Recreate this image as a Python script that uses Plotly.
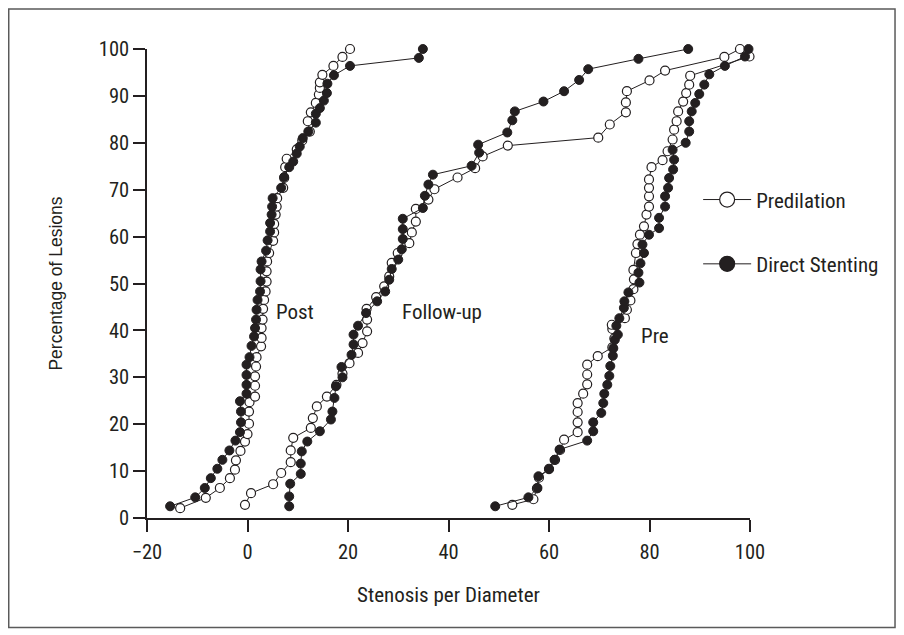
import plotly.graph_objects as go

# ---- data ----
post_pre_x = [-13.4, -8.3, -5.5, -3.5, -2.5, -2.3, -1.4, -0.5, 0.0, 0.3, 0.3, 0.4, 1.5, 1.5, 1.5, 1.7, 1.8, 2.7, 2.8, 2.8,
              3.0, 3.1, 3.3, 3.6, 3.8, 3.8, 3.9, 4.3, 5.1, 5.3, 5.3, 5.6, 5.8, 5.9, 7.1, 7.3, 7.5, 7.8, 9.8, 10.9,
              12.4, 12.0, 12.6, 13.6, 14.2, 14.4, 14.4, 14.9, 17.1, 18.9, 20.4]
post_pre_y = [2.1, 4.3, 6.4, 8.5, 10.3, 12.3, 14.3, 16.3, 17.9, 20.1, 22.7, 24.7, 25.9, 28.2, 30.2, 32.3, 34.3, 36.6, 38.4, 40.5,
              42.3, 44.6, 46.5, 48.3, 50.4, 52.6, 54.7, 56.5, 59.1, 60.9, 62.7, 64.7, 66.4, 68.2, 70.4, 72.5, 74.8, 76.6, 78.6, 80.5,
              82.4, 84.6, 86.5, 88.5, 90.3, 91.7, 92.9, 94.5, 96.4, 98.3, 100.0]

post_ds_x = [-15.4, -10.4, -8.5, -7.3, -6.0, -5.0, -3.6, -2.4, -1.5, -1.3, -1.3, -1.5, -0.2, -0.2, -0.2, -0.2, 0.4, 0.8, 1.3, 1.5,
             1.7, 1.8, 2.0, 2.5, 2.6, 2.6, 2.8, 3.7, 4.0, 4.5, 4.5, 4.8, 4.9, 5.0, 6.7, 7.3, 8.3, 9.1, 9.8, 10.4,
             11.0, 12.1, 13.6, 13.6, 14.4, 15.2, 15.8, 15.9, 17.2, 20.4, 34.1, 34.9]
post_ds_y = [2.5, 4.4, 6.4, 8.5, 10.5, 12.4, 14.4, 16.5, 18.3, 20.4, 22.7, 24.9, 26.5, 28.4, 30.5, 32.7, 34.3, 36.7, 38.7, 40.5,
             42.3, 44.4, 46.5, 48.3, 50.5, 53.0, 54.7, 57.0, 59.2, 61.1, 62.9, 64.7, 66.4, 68.2, 70.4, 72.7, 74.8, 76.0, 77.7, 79.2,
             81.0, 82.4, 84.3, 86.2, 87.4, 89.0, 90.6, 92.6, 94.4, 96.4, 98.1, 100.0]

fu_pre_x = [-0.5, 0.7, 5.1, 6.7, 8.6, 8.6, 9.1, 12.6, 13.0, 13.8, 15.8, 17.7, 18.9, 20.3, 22.0, 22.9, 23.8, 23.8, 23.7, 25.6,
            27.2, 28.2, 28.7, 29.9, 32.2, 32.7, 33.5, 33.5, 36.0, 37.2, 41.8, 45.3, 46.8, 51.8, 69.8, 72.1, 75.3, 75.3, 75.5, 80.0,
            83.1, 94.9, 98.0]
fu_pre_y = [2.8, 5.3, 7.2, 9.6, 11.9, 14.4, 17.1, 19.2, 21.3, 23.8, 25.9, 28.4, 30.8, 33.0, 35.2, 37.3, 39.8, 42.3, 44.6, 47.1,
            49.4, 51.5, 54.4, 56.5, 58.6, 60.9, 63.2, 65.9, 67.9, 70.1, 72.6, 74.6, 77.1, 79.4, 81.1, 83.9, 86.5, 88.6, 91.0, 93.3,
            95.4, 98.3, 100.0]

fu_ds_x = [8.3, 8.3, 8.5, 10.6, 10.6, 10.8, 11.9, 14.4, 16.6, 16.9, 17.3, 17.6, 18.9, 18.7, 20.7, 21.1, 21.1, 22.0, 23.6, 25.8,
           27.4, 28.2, 28.7, 30.0, 30.7, 30.9, 30.9, 30.9, 34.9, 35.3, 36.0, 36.9, 44.6, 46.1, 45.9, 51.7, 52.7, 53.2, 58.9, 63.0,
           66.0, 67.8, 77.8, 87.7]
fu_ds_y = [2.5, 4.6, 7.3, 9.4, 11.6, 14.2, 16.3, 18.5, 21.0, 22.7, 25.6, 28.1, 30.0, 32.2, 34.8, 37.0, 39.1, 41.0, 43.7, 46.2,
           48.3, 50.8, 53.1, 55.1, 57.3, 59.5, 61.6, 63.8, 66.1, 68.7, 71.1, 73.2, 75.1, 77.9, 79.6, 82.2, 84.8, 86.7, 88.8, 91.0,
           93.4, 95.7, 97.9, 100.0]

pre_pre_x = [52.7, 56.9, 57.6, 58.0, 60.0, 61.2, 62.2, 63.0, 65.7, 65.7, 65.7, 65.7, 66.8, 67.6, 67.6, 67.6, 69.7, 72.6, 73.0, 72.6,
             72.5, 75.1, 75.5, 76.2, 76.8, 76.9, 76.8, 77.3, 77.6, 78.1, 78.9, 79.4, 79.9, 79.9, 79.9, 79.9, 80.4, 82.6, 83.6, 84.6,
             84.9, 85.4, 85.7, 86.7, 87.3, 87.9, 88.1, 99.9]
pre_pre_y = [2.8, 4.0, 6.3, 8.6, 10.5, 12.4, 14.5, 16.7, 18.3, 20.4, 22.6, 24.5, 26.5, 28.5, 30.6, 32.7, 34.5, 36.4, 38.3, 40.3,
             41.2, 42.6, 44.4, 46.4, 48.8, 50.9, 52.9, 56.5, 58.4, 60.4, 62.2, 64.7, 66.4, 68.6, 70.4, 72.2, 74.8, 76.3, 78.2, 80.7,
             82.8, 84.6, 86.7, 88.8, 90.6, 92.4, 94.3, 98.4]

pre_ds_x = [49.3, 55.9, 57.7, 57.9, 60.0, 61.1, 62.1, 67.6, 68.8, 68.8, 70.4, 70.8, 71.0, 71.6, 72.0, 72.2, 72.7, 72.8, 73.1, 73.7,
            73.4, 74.0, 74.9, 75.0, 75.8, 78.0, 77.8, 78.2, 78.9, 78.6, 79.9, 81.9, 81.9, 83.1, 83.1, 83.7, 83.9, 84.7, 84.9, 84.6,
            87.2, 87.9, 87.9, 88.4, 89.1, 89.9, 90.9, 91.9, 95.0, 99.0, 99.7]
pre_ds_y = [2.5, 4.4, 6.4, 8.9, 10.4, 12.4, 14.6, 16.5, 18.5, 20.4, 22.4, 24.5, 26.5, 28.4, 30.3, 32.4, 34.6, 36.2, 38.0, 39.1,
            41.0, 42.6, 44.8, 46.2, 48.1, 50.2, 52.3, 54.3, 56.5, 58.3, 60.4, 61.8, 64.0, 66.4, 68.6, 70.4, 72.5, 74.3, 76.4, 78.5,
            80.0, 82.4, 84.6, 86.7, 88.5, 90.4, 92.4, 94.6, 96.4, 98.4, 100.0]

x_ticks = [-20, 0, 20, 40, 60, 80, 100]
x_tick_text = ["\u221220", "0", "20", "40", "60", "80", "100"]
y_ticks = [0, 10, 20, 30, 40, 50, 60, 70, 80, 90, 100]

group_labels = ["Post", "Follow-up", "Pre"]
group_label_x = [9.45, 38.7, 81.1]
group_label_y = [44.0, 44.0, 38.8]

legend_names = ["Predilation", "Direct Stenting"]

NARROW = "Roboto Condensed, Liberation Sans Narrow, Arial Narrow, sans-serif"
INK = "#231f20"

open_marker = dict(symbol="circle", size=9, color="white", line=dict(color=INK, width=1.2))
fill_marker = dict(symbol="circle", size=9, color=INK, line=dict(color=INK, width=1))
line_style = dict(color=INK, width=1)

fig = go.Figure()
series = [
    (post_pre_x, post_pre_y, "open", legend_names[0]),
    (fu_pre_x, fu_pre_y, "open", legend_names[0]),
    (pre_pre_x, pre_pre_y, "open", legend_names[0]),
    (post_ds_x, post_ds_y, "fill", legend_names[1]),
    (fu_ds_x, fu_ds_y, "fill", legend_names[1]),
    (pre_ds_x, pre_ds_y, "fill", legend_names[1]),
]
for xs, ys, kind, name in series:
    fig.add_trace(go.Scatter(
        x=xs, y=ys, mode="lines+markers", name=name,
        legendgroup=name, showlegend=False,
        line=line_style,
        marker=open_marker if kind == "open" else fill_marker,
        cliponaxis=False,
    ))

# legend entries (larger symbols, as in the reference key)
for name, kind in zip(legend_names, ["open", "fill"]):
    m = dict(symbol="circle", size=15,
             color="white" if kind == "open" else INK,
             line=dict(color=INK, width=1.2))
    fig.add_trace(go.Scatter(x=[None], y=[None], mode="lines+markers", name=name,
                             legendgroup=name, showlegend=True,
                             line=line_style, marker=m))

for t, gx, gy in zip(group_labels, group_label_x, group_label_y):
    fig.add_annotation(x=gx, y=gy, text=t, showarrow=False,
                       font=dict(family=NARROW, size=21, color=INK))

# figure is drawn 8px in from the page corner (body margin), so sizes are compensated
fig.update_layout(
    width=896, height=627,
    margin=dict(l=139, r=154, t=41, b=117),
    paper_bgcolor="white", plot_bgcolor="white",
    showlegend=True,
    legend=dict(x=0.914, y=0.722, xanchor="left", yanchor="top",
                font=dict(family=NARROW, size=21, color=INK),
                tracegroupgap=34, itemwidth=48,
                bgcolor="rgba(0,0,0,0)"),
    shapes=[dict(type="rect", xref="paper", yref="paper",
                 x0=-0.2293, x1=1.2405, y0=-0.2335, y1=1.0855,
                 line=dict(color="#5a5a5a", width=1.5))],
)
fig.update_xaxes(range=[-20, 100], tickvals=x_ticks, ticktext=x_tick_text,
                 showline=True, linecolor=INK, linewidth=1.5, ticks="outside",
                 ticklen=12, tickwidth=1.5, tickcolor=INK, showgrid=False, zeroline=False,
                 ticklabelstandoff=3,
                 tickfont=dict(family=NARROW, size=20.5, color=INK),
                 title=dict(text="Stenosis per Diameter", standoff=24,
                            font=dict(family=NARROW, size=21, color=INK)))
fig.update_yaxes(range=[0, 100], tickvals=y_ticks,
                 showline=True, linecolor=INK, linewidth=1.5, ticks="outside",
                 ticklen=12, tickwidth=1.5, tickcolor=INK, showgrid=False, zeroline=False,
                 tickfont=dict(family=NARROW, size=20.5, color=INK),
                 title=dict(text="Percentage of Lesions", standoff=32,
                            font=dict(family="Liberation Sans, Arial, sans-serif", size=17.5, color=INK)))

fig.write_html("out.html")
